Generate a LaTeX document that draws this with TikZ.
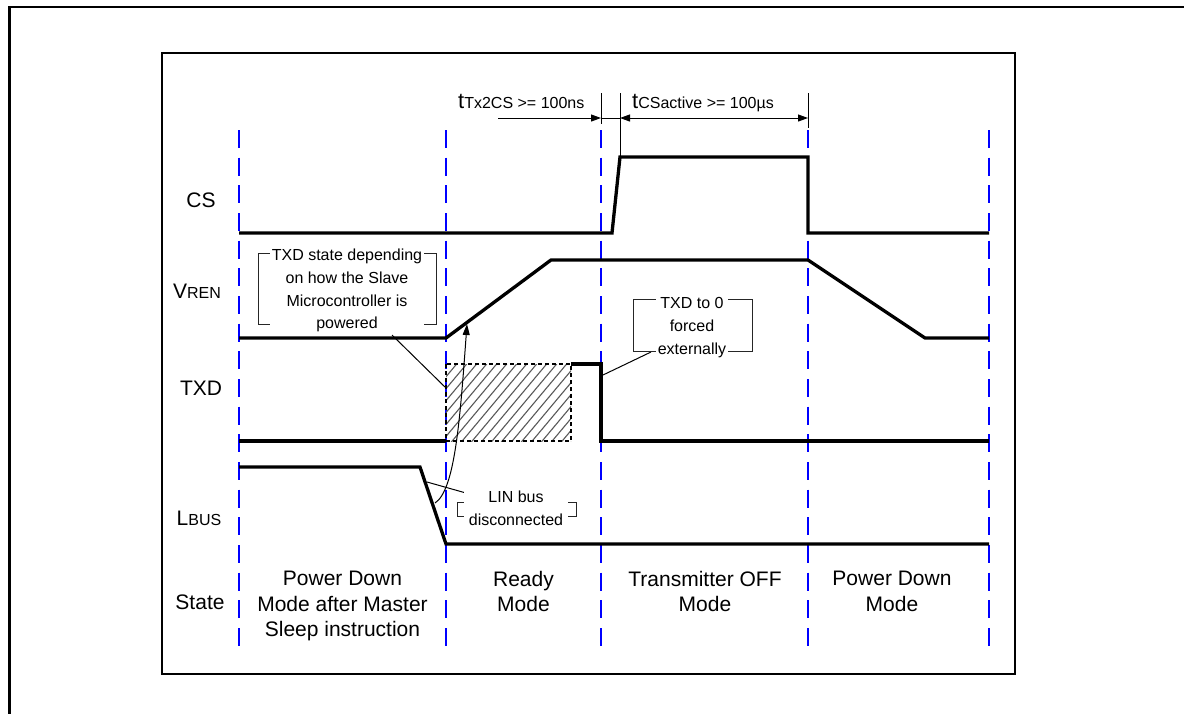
\documentclass[tikz,border=0pt]{standalone}
\usepackage{fontspec}
\setmainfont{Liberation Sans}
\usetikzlibrary{arrows.meta}
\tikzset{
  sig/.style={line width=3.3pt},
  gridline/.style={blue, line width=2pt, dash pattern=on 18pt off 9.67pt},
  leader/.style={line width=1pt, black},
  brk/.style={line width=1pt, black!85},
  hatch/.style={line width=1.1pt, black!65},
  hatchbox/.style={line width=1.5pt, dash pattern=on 4pt off 3pt},
  lbl/.style={font=\fontsize{21}{21}\selectfont, inner sep=0pt},
  state/.style={align=center, font=\fontsize{21}{25.5}\selectfont, inner sep=0pt},
  note/.style={fill=white, align=center, inner xsep=2pt, inner ysep=1pt, font=\fontsize{16}{22.8}\selectfont},
  >={Triangle[length=10pt,width=7pt]},
}
\begin{document}
\begin{tikzpicture}[x=1pt,y=-1pt]
\useasboundingbox (0,0) rectangle (1184,713);
\clip (0,0) rectangle (1184,713);
% outer frame (cut by the page)
\draw[line width=2.7pt] (9.7,730) -- (9.7,7) -- (1200,7);
% inner frame
\draw[line width=1.2pt] (162,53) rectangle (1015,674);

% blue phase separators
\foreach \x in {239,446,601,808,989}{
  \draw[gridline] (\x,130) -- (\x,647);
}

% hatched TXD area
\begin{scope}
  \clip (446,364) rectangle (571,441);
  \foreach \i in {0,...,20}{
    \draw[hatch] (378+10*\i,446) -- ++(72,-86);
  }
\end{scope}
\draw[hatchbox] (446,364) rectangle (571,441);

% signals
\draw[sig] (239,233) -- (612,233) -- (620,157) -- (808,157) -- (808,233) -- (989,233);
\draw[sig] (239,338) -- (446,338) -- (551,260) -- (808,260) -- (925,338) -- (989,338);
\draw[sig] (239,441) -- (446,441);
\draw[sig] (571,364) -- (601,364) -- (601,441) -- (989,441);
\draw[sig] (239,467) -- (420,467) -- (446,544) -- (989,544);

% signal labels
\node[lbl] (lcs) at (201,200) {CS};
\node[lbl] (lvren) at (197,291) {V{\fontsize{16}{16}\selectfont REN}};
\node[lbl] (ltxd) at (201,388) {TXD};
\node[lbl] (llbus) at (199,518) {L{\fontsize{16}{16}\selectfont BUS}};
\node[lbl] (lstate) at (200,602) {State};

% states
\node[state] (s1) at (342.5,606) {Power Down\\Mode after Master\\Sleep instruction};
\node[state] (s2) at (523.5,591.5) {Ready\\Mode};
\node[state] (s3) at (705,591.5) {Transmitter OFF\\Mode};
\node[state] (s4) at (892,591.5) {Power Down\\Mode};

% timing markers
\coordinate (m1t) at (601,93); \coordinate (m1b) at (601,124);
\coordinate (m2t) at (620,93); \coordinate (m2b) at (620,157);
\coordinate (m3t) at (808,93); \coordinate (m3b) at (808,128);
\draw[leader] (m1t) -- (m1b);
\draw[leader] (m2t) -- (m2b);
\draw[leader] (m3t) -- (m3b);
\coordinate (a0) at (498,118);
\coordinate (a1) at (601,118);
\coordinate (a2) at (620,118);
\coordinate (a3) at (808,118);
\draw[leader,->] (a0) -- (a1);
\draw[leader] (a1) -- (a2);
\draw[leader,<->] (a2) -- (a3);
\node[anchor=base west, inner sep=0pt] (ttx) at (458,108)
  {{\fontsize{22}{22}\selectfont t}{\fontsize{16}{16}\selectfont Tx2CS >= 100ns}};
\node[anchor=base west, inner sep=0pt] (tcs) at (632,108)
  {{\fontsize{22}{22}\selectfont t}{\fontsize{16}{16}\selectfont CSactive >= 100µs}};

% callout 1
\coordinate (c1a) at (392,335);
\coordinate (c1b) at (446,388);
\draw[leader] (c1a) -- (c1b);
\draw[brk] (258,253) rectangle (436,324);
\node[note] (n1) at (347,290.5) {TXD state depending\\on how the Slave\\Microcontroller is\\powered};

% callout 2
\coordinate (c2a) at (651,352);
\coordinate (c2b) at (603,375);
\draw[leader] (c2a) -- (c2b);
\draw[brk] (633,299) rectangle (752,351);
\node[note] (n2) at (692,327.8) {TXD to 0\\forced\\externally};

% callout 3
\coordinate (c3a) at (466,493);
\coordinate (c3b) at (427,482);
\draw[leader] (c3a) -- (c3b);
\draw[brk] (457,502) rectangle (576,516);
\node[note, inner xsep=5pt] (n3) at (516,508.5) {LIN bus\\disconnected};

% causal arrow from LBUS edge to VREN ramp
\coordinate (cs0) at (435,503);
\coordinate (cs1) at (467,324);
\draw[leader,-{Triangle[length=11pt,width=7pt]}] (cs0) .. controls (455,490) and (460,420) .. (cs1);
\end{tikzpicture}
\end{document}
